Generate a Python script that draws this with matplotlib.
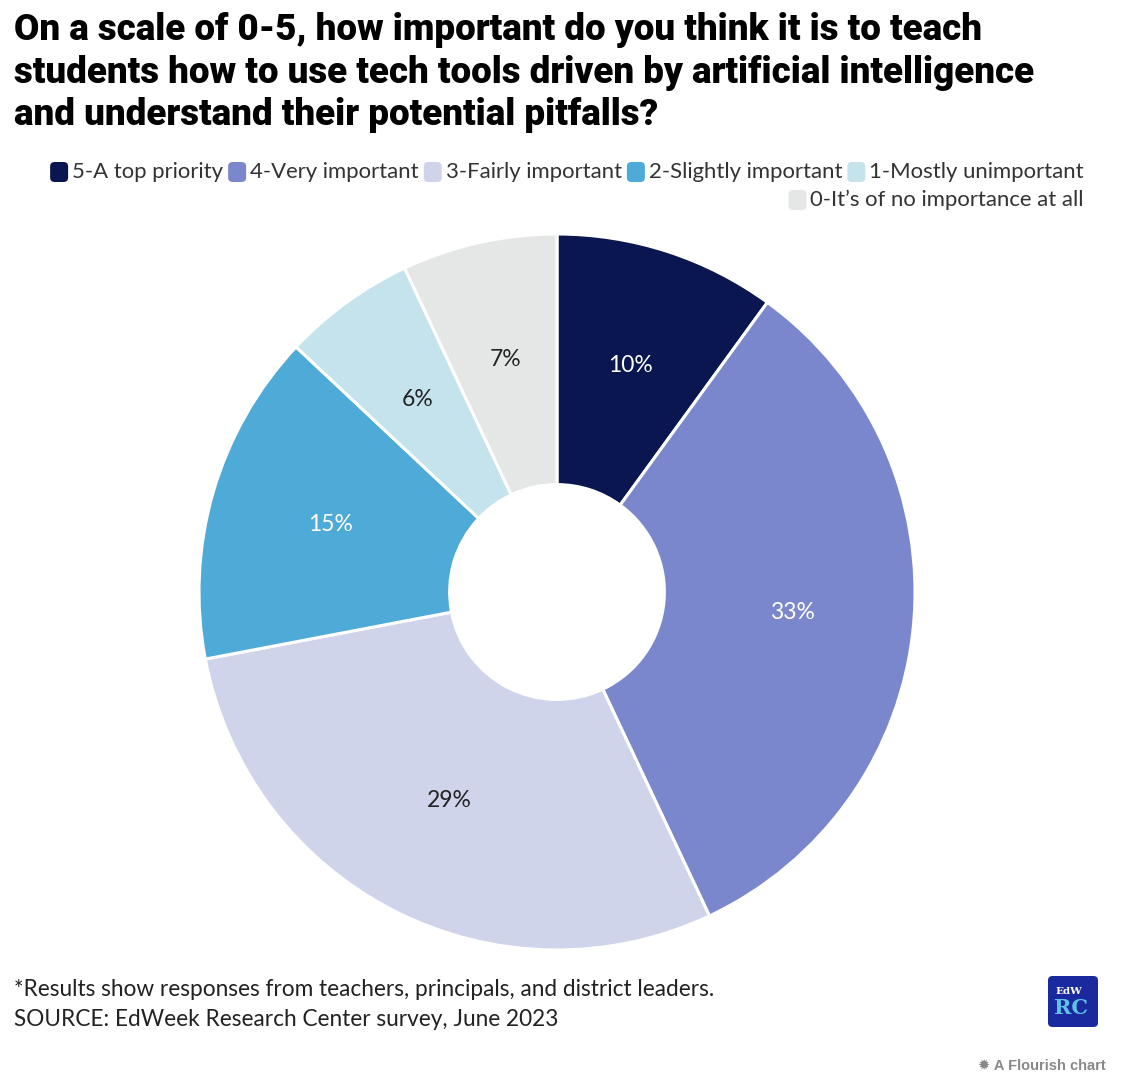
import matplotlib
matplotlib.use("Agg")
import matplotlib.pyplot as plt
from matplotlib.patches import FancyBboxPatch
import numpy as np

# DATA
categories = ["5-A top priority", "4-Very important", "3-Fairly important",
              "2-Slightly important", "1-Mostly unimportant", "0-It\u2019s of no importance at all"]
values = [10, 33, 29, 15, 6, 7]
colors = ["#0a1650", "#7b87cc", "#d0d4ea", "#4eaad6", "#c5e3ec", "#e5e6e6"]
label_colors = ["white", "white", "#222222", "white", "#222222", "#222222"]

W, H = 1140, 1088
fig = plt.figure(figsize=(W / 100, H / 100), dpi=100)
fig.patch.set_facecolor("white")

body_font = ["Lato", "DejaVu Sans"]
title_font = ["Roboto", "DejaVu Sans"]

# title
fig.text(14 / W, 1 - 12 / H,
         "On a scale of 0-5, how important do you think it is to teach\n"
         "students how to use tech tools driven by artificial intelligence\n"
         "and understand their potential pitfalls?",
         ha="left", va="top", fontsize=26.5, fontweight="heavy", family=title_font,
         color="black", linespacing=1.24)

# pie
cx, cy, R = 557, 592, 358
ax = fig.add_axes([(cx - R) / W, (H - cy - R) / H, 2 * R / W, 2 * R / H])
wedges, texts = ax.pie(values, colors=colors, startangle=90, counterclock=False,
                       radius=1.0, wedgeprops=dict(width=0.70, edgecolor="white", linewidth=2.2))
ax.set_aspect("equal")
ax.set_xlim(-1, 1)
ax.set_ylim(-1, 1)
ax.axis("off")

start = 90.0
for v, lc in zip(values, label_colors):
    mid = np.deg2rad(start - v * 360 / 100 / 2)
    start -= v * 360 / 100
    r = 0.66
    ax.text(r * np.cos(mid), r * np.sin(mid) + 0.005, "%d%%" % v, ha="center", va="center",
            fontsize=16.5, color=lc, family=body_font)

# legend, right aligned, laid out by measuring text
renderer = fig.canvas.get_renderer()
rows = [categories[:5], categories[5:]]
row_y = [172, 200]
right = 1084
sw_w, sw_h = 18, 20
for row, y in zip(rows, row_y):
    x = right
    for name in reversed(row):
        i = categories.index(name)
        t = fig.text(x / W, 1 - y / H, name, ha="right", va="center", fontsize=15.9,
                     family=body_font, color="#333333")
        bb = t.get_window_extent(renderer)
        x = x - bb.width - 4
        fig.patches.append(FancyBboxPatch(((x - sw_w) / W, 1 - (y + sw_h / 2) / H),
                                          sw_w / W, sw_h / H,
                                          boxstyle="round,pad=0,rounding_size=0.004",
                                          transform=fig.transFigure, facecolor=colors[i],
                                          edgecolor="none"))
        x = x - sw_w - 5

# footer
fig.text(14 / W, 1 - 990 / H, "*Results show responses from teachers, principals, and district leaders.",
         ha="left", va="center", fontsize=16.3, family=body_font, color="#222222")
fig.text(14 / W, 1 - 1020 / H, "SOURCE: EdWeek Research Center survey, June 2023",
         ha="left", va="center", fontsize=16.3, family=body_font, color="#222222")

# logo
fig.patches.append(FancyBboxPatch((1048 / W, 1 - 1027 / H), 50 / W, 51 / H,
                                  boxstyle="round,pad=0,rounding_size=0.004",
                                  transform=fig.transFigure, facecolor="#1a2a9e", edgecolor="none"))
fig.text(1055 / W, 1 - 992 / H, "EdW", ha="left", va="center", fontsize=7.5,
         family="DejaVu Serif", color="white", fontweight="bold")
fig.text(1054 / W, 1 - 1008 / H, "RC", ha="left", va="center", fontsize=15,
         family="DejaVu Serif", color="#5ec3e6", fontweight="bold")

fig.text(1106 / W, 1 - 1066 / H, "\u2739 A Flourish chart", ha="right", va="center",
         fontsize=10.5, family=["Liberation Sans", "DejaVu Sans"], color="#888888", fontweight="bold")

fig.savefig("out.png", dpi=100)
